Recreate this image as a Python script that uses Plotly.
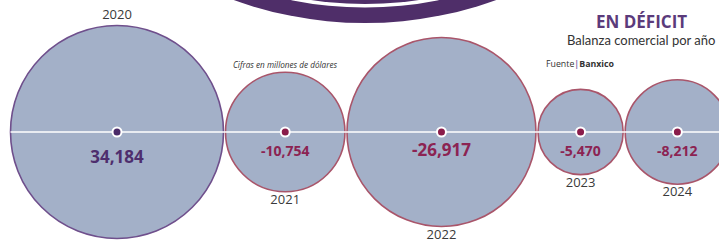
import math
import plotly.graph_objects as go

# ---------------- data ----------------
years = ["2020", "2021", "2022", "2023", "2024"]
balance = [34184, -10754, -26917, -5470, -8212]  # millones de dólares

title = "EN DÉFICIT"
subtitle = "Balanza comercial por año"
units_note = "Cifras en millones de dólares"
source_label = "Fuente"
source_name = "Banxico"

# ---------------- styles / layout ----------------
W, H = 719, 242
CY = 132            # baseline (px from top)
R_MAX = 106.5       # radius of largest bubble
GAP = 2.0           # gap between bubbles
X_FIRST = 117       # centre of first bubble

FILL = "#a3b0c8"
POS = dict(edge="#6f4f8c", dot="#4a2a68", text="#4e2e6e")
NEG = dict(edge="#a9556a", dot="#8a1c4a", text="#8c2352")
RING = "#4f2e69"
GREY = "#3a3a3a"

abs_vals = [abs(v) for v in balance]
sizeref = 2.0 * max(abs_vals) / (2 * R_MAX) ** 2
radii = [math.sqrt(v / (2.0 * sizeref)) for v in abs_vals]
xs = [X_FIRST]
for i in range(1, len(balance)):
    xs.append(xs[-1] + radii[i - 1] + GAP + radii[i])
ys = [CY] * len(balance)

sty = [POS if v >= 0 else NEG for v in balance]

fig = go.Figure()

# decorative ring at the top (part of an adjacent graphic)
RC_X, RC_Y = 365, -363
for r, col in [(386, RING), (370.5, "white"), (367, RING)]:
    fig.add_shape(type="circle", xref="x", yref="y",
                  x0=RC_X - r, x1=RC_X + r, y0=RC_Y - r, y1=RC_Y + r,
                  fillcolor=col, line=dict(width=0), layer="below")

# bubbles
fig.add_trace(go.Scatter(
    x=xs, y=ys, mode="markers",
    marker=dict(size=abs_vals, sizemode="area", sizeref=sizeref,
                color=FILL, opacity=1,
                line=dict(width=1.6, color=[s["edge"] for s in sty])),
    hoverinfo="skip", showlegend=False, cliponaxis=True))

# white baseline
fig.add_trace(go.Scatter(
    x=[xs[0] - radii[0], W + 5], y=[CY, CY], mode="lines",
    line=dict(color="white", width=1.5),
    hoverinfo="skip", showlegend=False))

# centre dots
fig.add_trace(go.Scatter(
    x=xs, y=ys, mode="markers",
    marker=dict(size=9, color=[s["dot"] for s in sty],
                line=dict(width=2, color="white")),
    hoverinfo="skip", showlegend=False))

# value labels
val_y = [CY + (27 if v >= 0 else 20) for v in balance]
val_size = [17 if r > 80 else 14 for r in radii]
fig.add_trace(go.Scatter(
    x=xs, y=val_y, mode="text",
    text=[f"<b>{v:,}</b>" for v in balance],
    textfont=dict(family="Open Sans", size=val_size,
                  color=[s["text"] for s in sty]),
    textposition="middle center",
    hoverinfo="skip", showlegend=False))

# year labels
yr_y = [CY - r - 10 if v >= 0 else CY + r + 9 for v, r in zip(balance, radii)]
fig.add_trace(go.Scatter(
    x=xs, y=yr_y, mode="text", text=years,
    textfont=dict(family="Open Sans", size=13, color=GREY),
    textposition="middle center",
    hoverinfo="skip", showlegend=False))

# titles & notes
ann = [
    dict(x=641, y=21, text=f"<b>{title}</b>",
         font=dict(family="Open Sans", size=17, color="#5b3b7b")),
    dict(x=641, y=40, text=subtitle,
         font=dict(family="Lato", size=13, color="#333333")),
    dict(x=285, y=64, text=f"<i>{units_note}</i>",
         font=dict(family="Open Sans", size=8.2, color="#333333")),
    dict(x=580, y=64,
         text=f"{source_label}<span style='color:#8d6fb0'><b>|</b></span><b>{source_name}</b>",
         font=dict(family="Open Sans", size=8.8, color="#333333")),
]
for a in ann:
    fig.add_annotation(xref="x", yref="y", showarrow=False,
                       xanchor="center", yanchor="middle", **a)

fig.update_layout(
    width=W, height=H, margin=dict(l=0, r=0, t=0, b=0),
    paper_bgcolor="white", plot_bgcolor="white",
    xaxis=dict(range=[0, W], visible=False, fixedrange=True),
    yaxis=dict(range=[H, 0], visible=False, fixedrange=True),
    showlegend=False,
)

fig.write_html("out.html", config={"displayModeBar": False, "staticPlot": True},
               post_script="document.body.style.margin='0';document.body.style.overflow='hidden';")
